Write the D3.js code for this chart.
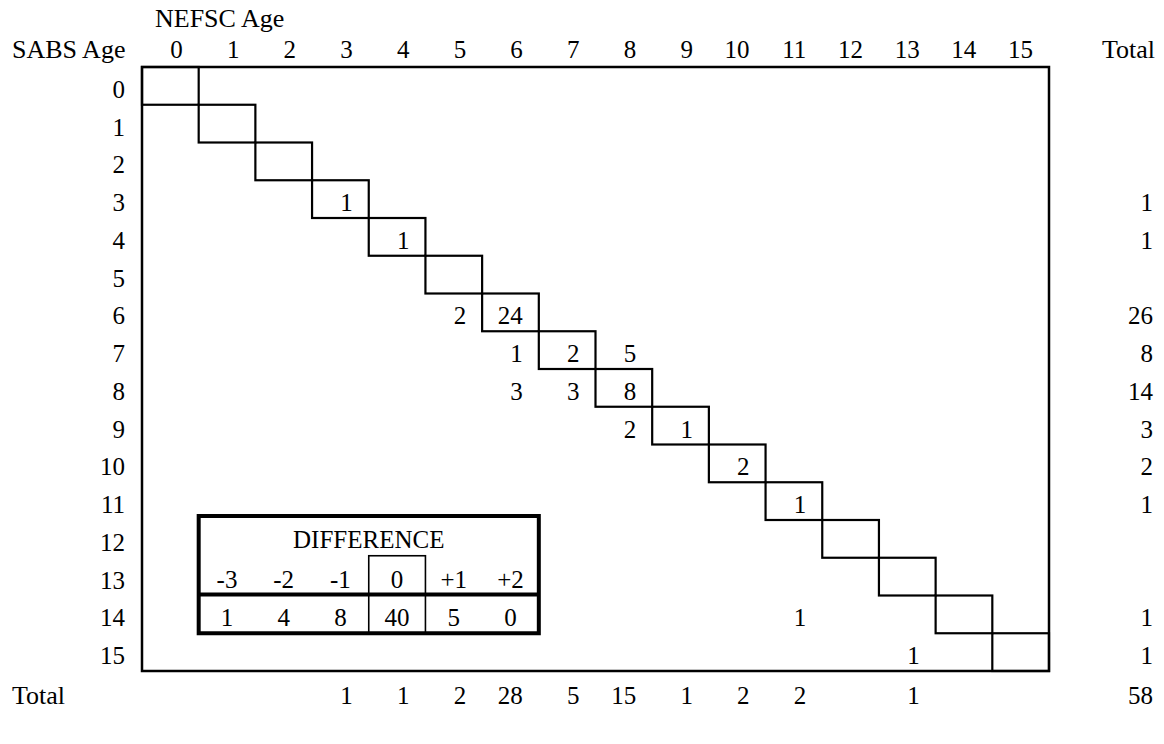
<!DOCTYPE html>
<html>
<head>
<meta charset="utf-8">
<script src="https://cdn.jsdelivr.net/npm/d3@7"></script>
<style>
  body { margin: 0; background: #fff; }
  svg text { font-family: "Liberation Serif", "Times New Roman", serif; font-size: 25px; fill: #000; }
  svg text.head { font-size: 26px; }
</style>
</head>
<body>
<svg id="ageTable" width="1164" height="744"></svg>
<script>
// ages on both axes
const ages = ["0", "1", "2", "3", "4", "5", "6", "7", "8", "9", "10", "11", "12", "13", "14", "15"];

// non-empty cells: SABS age (row), NEFSC age (column), count
const cellSabs  = ["3", "4", "6", "6", "7", "7", "7", "8", "8", "8", "9", "9", "10", "11", "14", "15"];
const cellNefsc = ["3", "4", "5", "6", "6", "7", "8", "6", "7", "8", "8", "9", "10", "11", "11", "13"];
const cellCount = [1, 1, 2, 24, 1, 2, 5, 3, 3, 8, 2, 1, 2, 1, 1, 1];

// totals printed at the right (by SABS age) and at the bottom (by NEFSC age)
const rowTotals = ["", "", "", "1", "1", "", "26", "8", "14", "3", "2", "1", "", "", "1", "1"];
const colTotals = ["", "", "", "1", "1", "2", "28", "5", "15", "1", "2", "2", "", "1", "", ""];
const grandTotal = "58";

// difference summary
const diffLabels = ["-3", "-2", "-1", "0", "+1", "+2"];
const diffCounts = ["1", "4", "8", "40", "5", "0"];
const diffColumns = ["1", "2", "3", "4", "5", "6"];

const svg = d3.select("#ageTable");

const x = d3.scaleBand().domain(ages).range([142, 1049]);
const y = d3.scaleBand().domain(ages).range([67, 671]);
const bw = x.bandwidth(), bh = y.bandwidth();
const rightOf = a => x(a) + bw - 16;
const baseOf = a => y(a) + bh / 2 + 12;

const cells = cellCount.map((n, i) => ({ row: cellSabs[i], col: cellNefsc[i], n }));

// headers
svg.append("text").attr("class", "head").attr("x", 155).attr("y", 27).text("NEFSC Age");
svg.append("text").attr("class", "head").attr("x", 12).attr("y", 58).text("SABS Age");
svg.append("text").attr("class", "head").attr("x", 1155).attr("y", 58).attr("text-anchor", "end").text("Total");

svg.append("g").selectAll("text")
    .data(ages)
    .join("text")
    .attr("x", d => rightOf(d))
    .attr("y", 58)
    .attr("text-anchor", "end")
    .text(d => d);

// row labels
svg.append("g").selectAll("text")
    .data(ages)
    .join("text")
    .attr("x", x(ages[0]) - 17)
    .attr("y", d => baseOf(d))
    .attr("text-anchor", "end")
    .text(d => d);

// outer frame
svg.append("rect")
    .attr("x", x(ages[0]))
    .attr("y", y(ages[0]))
    .attr("width", bw * ages.length)
    .attr("height", bh * ages.length)
    .attr("fill", "none")
    .attr("stroke", "#000")
    .attr("stroke-width", 2.5);

// diagonal (agreement) cells
svg.append("g").selectAll("rect")
    .data(ages)
    .join("rect")
    .attr("x", d => x(d))
    .attr("y", d => y(d))
    .attr("width", bw)
    .attr("height", bh)
    .attr("fill", "none")
    .attr("stroke", "#000")
    .attr("stroke-width", 2.2);

// counts
svg.append("g").selectAll("text")
    .data(cells)
    .join("text")
    .attr("x", d => rightOf(d.col))
    .attr("y", d => baseOf(d.row))
    .attr("text-anchor", "end")
    .text(d => d.n);

// right totals
svg.append("g").selectAll("text")
    .data(ages.filter((a, i) => rowTotals[i] !== ""))
    .join("text")
    .attr("x", 1153)
    .attr("y", d => baseOf(d))
    .attr("text-anchor", "end")
    .text(d => rowTotals[ages.indexOf(d)]);

// bottom totals
const totalBase = y(ages[15]) + bh * 1.5 + 14;
svg.append("text").attr("class", "head").attr("x", 12).attr("y", totalBase).text("Total");
svg.append("g").selectAll("text")
    .data(ages.filter((a, i) => colTotals[i] !== ""))
    .join("text")
    .attr("x", d => rightOf(d))
    .attr("y", totalBase)
    .attr("text-anchor", "end")
    .text(d => colTotals[ages.indexOf(d)]);
svg.append("text").attr("x", 1153).attr("y", totalBase).attr("text-anchor", "end").text(grandTotal);

// difference inset
const inset = svg.append("g");
const ix0 = x(diffColumns[0]), ix1 = x(diffColumns[5]) + bw;
const iTop = y("12") - 4, iMid = y("14") - 1, iBot = y("15");
const zeroCol = diffColumns[diffLabels.indexOf("0")];

inset.append("rect")
    .attr("x", ix0).attr("y", iTop)
    .attr("width", ix1 - ix0).attr("height", iBot - iTop)
    .attr("fill", "#fff")
    .attr("stroke", "#000").attr("stroke-width", 4);

inset.append("rect")
    .attr("x", x(zeroCol)).attr("y", y("13") - 2)
    .attr("width", bw).attr("height", iBot - y("13") + 2)
    .attr("fill", "none")
    .attr("stroke", "#000").attr("stroke-width", 1.6);

inset.append("line")
    .attr("x1", ix0).attr("x2", ix1)
    .attr("y1", iMid).attr("y2", iMid)
    .attr("stroke", "#000").attr("stroke-width", 4);

inset.append("text")
    .attr("x", (ix0 + ix1) / 2)
    .attr("y", baseOf("12") - 3)
    .attr("text-anchor", "middle")
    .text("DIFFERENCE");

inset.append("g").selectAll("text")
    .data(diffLabels)
    .join("text")
    .attr("x", (d, i) => x(diffColumns[i]) + bw / 2)
    .attr("y", baseOf("13") - 1)
    .attr("text-anchor", "middle")
    .text(d => d);

inset.append("g").selectAll("text")
    .data(diffCounts)
    .join("text")
    .attr("x", (d, i) => x(diffColumns[i]) + bw / 2)
    .attr("y", baseOf("14"))
    .attr("text-anchor", "middle")
    .text(d => d);
</script>
</body>
</html>
